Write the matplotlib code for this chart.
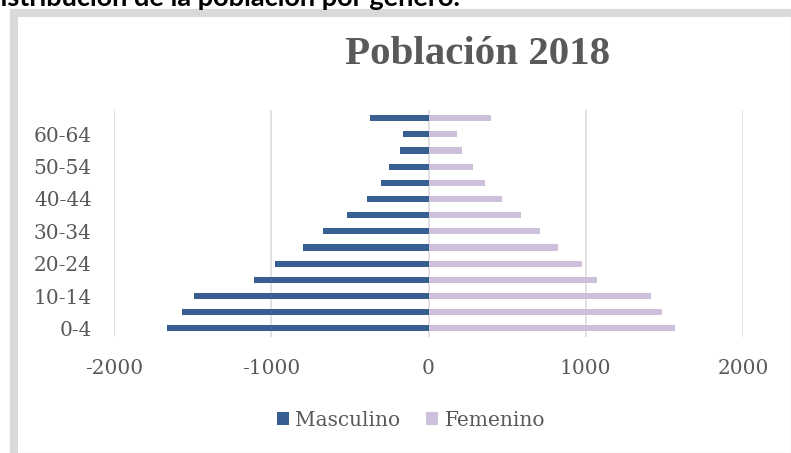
import matplotlib
matplotlib.use("Agg")
from matplotlib import pyplot as plt
from matplotlib.patches import Rectangle
import numpy as np

# age groups, bottom to top
grupos = ['0-4', '5-9', '10-14', '15-19', '20-24', '25-29', '30-34',
          '35-39', '40-44', '45-49', '50-54', '55-59', '60-64', '65+']
masculino = [1662, 1566, 1490, 1109, 975, 797, 674, 521, 390, 303, 252, 182, 163, 370]
femenino = [1568, 1483, 1416, 1074, 979, 822, 710, 589, 468, 362, 286, 210, 180, 398]
xticks = [-2000, -1000, 0, 1000, 2000]

c_masc = '#375f91'
c_fem = '#ccc0da'
c_txt = '#595959'
c_grid = '#d9d9d9'

W, H = 791, 453
fig = plt.figure(figsize=(W / 100, H / 100), dpi=100)

# frame of the pasted chart (thick band top + left, thin outline)
fig.patches.append(Rectangle((10 / W, 0), (W - 10) / W, 1 - 8.5 / H, transform=fig.transFigure,
                             facecolor='none', edgecolor='#e6e6e6', lw=1, zorder=0))
fig.patches.append(Rectangle((10 / W, 1 - 16.5 / H), (W - 10) / W, 8 / H, transform=fig.transFigure,
                             facecolor=c_grid, edgecolor='none', zorder=0))
fig.patches.append(Rectangle((10 / W, 0), 7.5 / W, 1 - 8.5 / H, transform=fig.transFigure,
                             facecolor=c_grid, edgecolor='none', zorder=0))

# caption above the chart, cut by the top edge as in the source
fig.text(460 / W, 1 - 6 / H, 'Distribución de la población por género.', ha='right',
         va='baseline', fontsize=19.5, fontweight='bold', family='Lato', color='black')

ax = fig.add_axes([114 / W, 1 - 336.5 / H, (743 - 114) / W, (336.5 - 110) / H])
y = np.arange(len(grupos))
ax.barh(y, -np.array(masculino), height=0.38, color=c_masc, label='Masculino', zorder=3)
ax.barh(y, femenino, height=0.38, color=c_fem, label='Femenino', zorder=3)

ax.set_xlim(-2000, 2000)
ax.set_ylim(-0.5, len(grupos) - 0.5)
ax.set_xticks(xticks)
ax.set_xticklabels([str(v) for v in xticks])
ax.set_yticks(y[::2])
ax.set_yticklabels(grupos[::2])
for v in xticks:
    ax.axvline(v, color=c_grid, lw=1.1, zorder=1)
for s in ax.spines.values():
    s.set_visible(False)
ax.tick_params(axis='both', length=0, labelsize=14.5, labelcolor=c_txt)
ax.tick_params(axis='y', pad=16)
ax.tick_params(axis='x', pad=16)
for lab in ax.get_xticklabels() + ax.get_yticklabels():
    lab.set_family('DejaVu Serif')

fig.text(478 / W, 1 - 54 / H, 'Población 2018', ha='center', va='center', fontsize=29.5,
         fontweight='bold', family='Liberation Serif', color=c_txt)

leg = fig.legend(loc='center', bbox_to_anchor=(411 / W, 1 - 420 / H), ncol=2, frameon=False,
                 handlelength=0.6, handleheight=0.6, handletextpad=0.3, columnspacing=1.3,
                 prop={'family': 'DejaVu Serif', 'size': 14.5})
for t in leg.get_texts():
    t.set_color(c_txt)

fig.savefig('out.png', dpi=100)
